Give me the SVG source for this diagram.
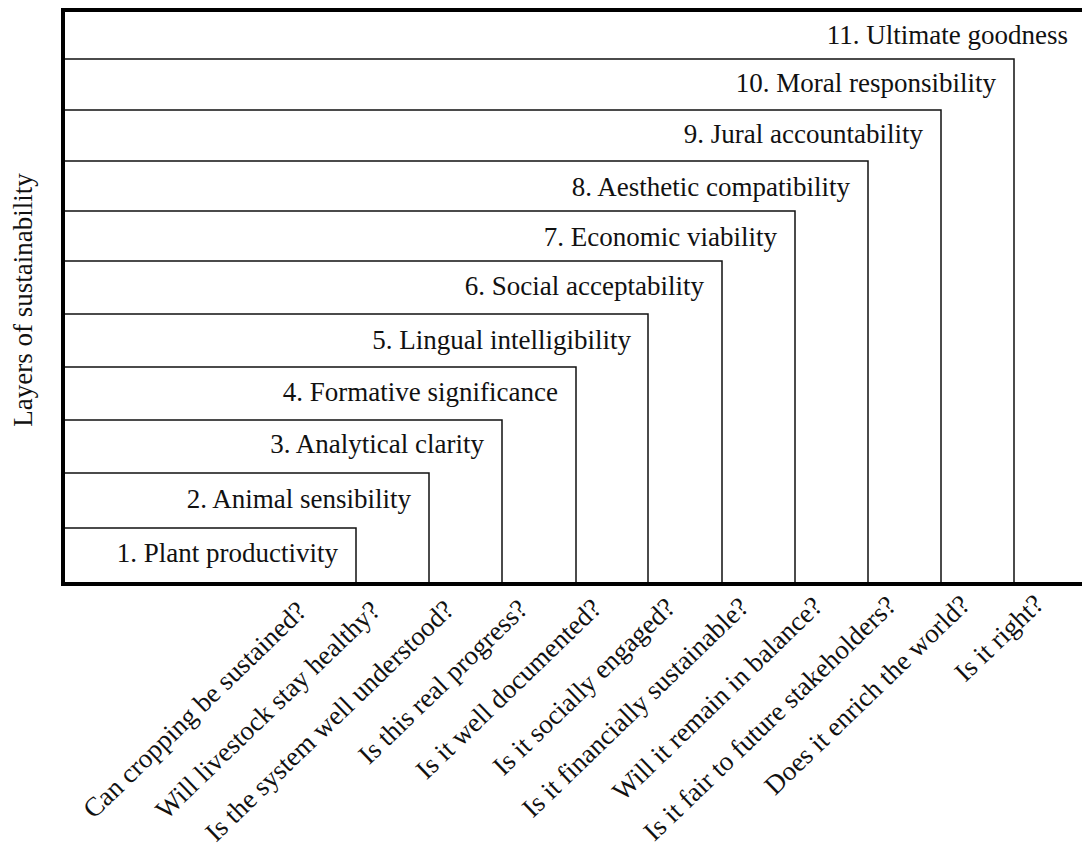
<svg xmlns="http://www.w3.org/2000/svg" width="1082" height="851" viewBox="0 0 1082 851" font-family="'Liberation Serif', 'Times New Roman', serif" font-size="27">
<style>
.box{fill:none;stroke:#111;stroke-width:1.5}
.axis{fill:none;stroke:#000;stroke-width:4;stroke-linecap:square}
text{fill:#111}
.name{text-anchor:end}
.q{text-anchor:end}
</style>
<rect x="0" y="0" width="1082" height="851" fill="#fff"/>
<g id="layer-1"><path class="box" d="M63 528H356V584"/><text class="name" x="338" y="562">1. Plant productivity</text><text class="q" transform="translate(308,613) rotate(-44)">Can cropping be sustained?</text></g>
<g id="layer-2"><path class="box" d="M63 473H429V584"/><text class="name" x="411" y="508">2. Animal sensibility</text><text class="q" transform="translate(381.7,612.3) rotate(-44)">Will livestock stay healthy?</text></g>
<g id="layer-3"><path class="box" d="M63 420H502V584"/><text class="name" x="484" y="453">3. Analytical clarity</text><text class="q" transform="translate(455.4,611.6) rotate(-44)">Is the system well understood?</text></g>
<g id="layer-4"><path class="box" d="M63 367H576V584"/><text class="name" x="558" y="401">4. Formative significance</text><text class="q" transform="translate(529.1,610.9) rotate(-44)">Is this real progress?</text></g>
<g id="layer-5"><path class="box" d="M63 314H648V584"/><text class="name" x="631" y="349">5. Lingual intelligibility</text><text class="q" transform="translate(602.8,610.2) rotate(-44)">Is it well documented?</text></g>
<g id="layer-6"><path class="box" d="M63 261H722V584"/><text class="name" x="704" y="295">6. Social acceptability</text><text class="q" transform="translate(676.5,609.5) rotate(-44)">Is it socially engaged?</text></g>
<g id="layer-7"><path class="box" d="M63 211H795V584"/><text class="name" x="777" y="246">7. Economic viability</text><text class="q" transform="translate(750.2,608.8) rotate(-44)">Is it financially sustainable?</text></g>
<g id="layer-8"><path class="box" d="M63 161H868V584"/><text class="name" x="850" y="196">8. Aesthetic compatibility</text><text class="q" transform="translate(823.9,608.1) rotate(-44)">Will it remain in balance?</text></g>
<g id="layer-9"><path class="box" d="M63 110H941V584"/><text class="name" x="923" y="143">9. Jural accountability</text><text class="q" transform="translate(897.6,607.4) rotate(-44)">Is it fair to future stakeholders?</text></g>
<g id="layer-10"><path class="box" d="M63 59H1014V584"/><text class="name" x="996" y="92">10. Moral responsibility</text><text class="q" transform="translate(971.3,606.7) rotate(-44)">Does it enrich the world?</text></g>
<g id="layer-11"><text class="name" x="1068" y="44">11. Ultimate goodness</text><text class="q" transform="translate(1045,606) rotate(-44)">Is it right?</text></g>
<g id="frame"><path class="axis" d="M1084 10H63V584H1084"/></g>
<g id="axis-title"><text transform="translate(32,300) rotate(-90)" text-anchor="middle">Layers of sustainability</text></g>
</svg>
